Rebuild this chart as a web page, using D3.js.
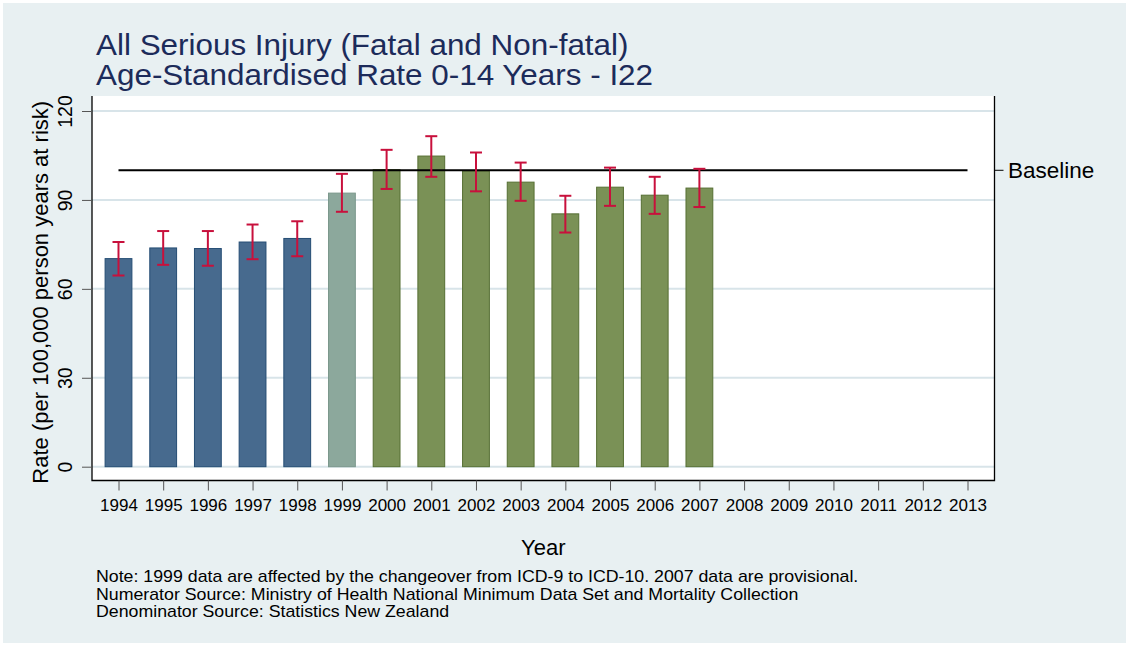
<!DOCTYPE html>
<html><head><meta charset="utf-8">
<script src="https://cdn.jsdelivr.net/npm/d3@7"></script>
<style>body{margin:0;background:#fff;}svg{display:block;font-family:"Liberation Sans",Arial,sans-serif;}</style>
</head><body>
<svg id="c" width="1129" height="646"></svg>
<script>
const years = d3.range(1994, 2014);
const barYears = [1994,1995,1996,1997,1998,1999,2000,2001,2002,2003,2004,2005,2006,2007];
const rates = [70.2,73.8,73.6,75.8,77.0,92.3,100.2,104.8,99.8,96.0,85.3,94.3,91.6,94.0];
const upper = [75.8,79.5,79.5,81.7,82.8,98.8,106.9,111.5,106.0,102.6,91.4,100.9,97.8,100.5];
const lower = [64.5,68.1,67.8,70.0,71.0,86.0,93.7,97.8,92.9,89.7,79.0,88.0,85.3,87.6];
const periods = ["icd9","icd9","icd9","icd9","icd9","change","icd10","icd10","icd10","icd10","icd10","icd10","icd10","icd10"];
const baseline = 100;
const yTicks = [0,30,60,90,120];
const titleLines = ["All Serious Injury (Fatal and Non-fatal)","Age-Standardised Rate 0-14 Years - I22"];
const notes = ["Note: 1999 data are affected by the changeover from ICD-9 to ICD-10. 2007 data are provisional.",
  "Numerator Source: Ministry of Health National Minimum Data Set and Mortality Collection",
  "Denominator Source: Statistics New Zealand"];

const fills = {icd9:"#476a8e", change:"#8ca89c", icd10:"#7a9156"};
const strokes = {icd9:"#254d74", change:"#7b978b", icd10:"#566f33"};

const svg = d3.select("#c");
svg.append("rect").attr("x",3).attr("y",3).attr("width",1123).attr("height",640).attr("fill","#e8f0f2");

const L=92, R=994.5, T=96, B=480.5;
svg.append("rect").attr("x",L).attr("y",T).attr("width",R-L).attr("height",B-T).attr("fill","#fff");

const x = d3.scalePoint().domain(years).range([118.5, 967.5]);
const y = d3.scaleLinear().domain([0,120]).range([466.7, 111]);
const bw = x.step()*0.6;

// gridlines
svg.append("g").selectAll("line").data(yTicks).join("line")
  .attr("x1",L).attr("x2",R).attr("y1",d=>y(d)).attr("y2",d=>y(d))
  .attr("stroke","#d8e4e9").attr("stroke-width",2);

// bars
const data = barYears.map((yr,i)=>({yr,v:rates[i],hi:upper[i],lo:lower[i],p:periods[i]}));
svg.append("g").selectAll("rect").data(data).join("rect")
  .attr("x",d=>x(d.yr)-bw/2).attr("width",bw)
  .attr("y",d=>y(d.v)).attr("height",d=>y(0)-y(d.v))
  .attr("fill",d=>fills[d.p]).attr("stroke",d=>strokes[d.p]).attr("stroke-width",1);

// baseline
svg.append("line").attr("x1",x(1994)).attr("x2",x(2013)).attr("y1",y(baseline)).attr("y2",y(baseline))
  .attr("stroke","#000").attr("stroke-width",2);

// error bars
const eb = svg.append("g").attr("stroke","#c8103c").attr("stroke-width",2).attr("fill","none");
data.forEach(d=>{
  eb.append("line").attr("x1",x(d.yr)).attr("x2",x(d.yr)).attr("y1",y(d.hi)).attr("y2",y(d.lo));
  eb.append("line").attr("x1",x(d.yr)-6).attr("x2",x(d.yr)+6).attr("y1",y(d.hi)).attr("y2",y(d.hi));
  eb.append("line").attr("x1",x(d.yr)-6).attr("x2",x(d.yr)+6).attr("y1",y(d.lo)).attr("y2",y(d.lo));
});

// frame lines (left, bottom, right)
svg.append("path").attr("d",`M${L},${T}V${B}H${R}V${T}`).attr("fill","none").attr("stroke","#000").attr("stroke-width",1.3);

// y axis
const yAxis = d3.axisLeft(y).tickValues(yTicks).tickSize(10).tickPadding(4);
const yg = svg.append("g").attr("transform",`translate(${L},0)`).call(yAxis);
yg.select(".domain").remove();
yg.selectAll(".tick line").attr("stroke","#555");
yg.selectAll(".tick text").attr("font-size",19.5).attr("fill","#000")
  .attr("x",null).attr("dy",null).attr("text-anchor","middle")
  .attr("transform","translate(-20,0) rotate(-90)");

// x axis
const xAxis = d3.axisBottom(x).tickSize(10).tickPadding(8);
const xg = svg.append("g").attr("transform",`translate(0,${B})`).call(xAxis);
xg.select(".domain").remove();
xg.selectAll(".tick line").attr("stroke","#555");
xg.selectAll(".tick text").attr("font-size",17).attr("fill","#000");

// right baseline tick + label
svg.append("line").attr("x1",R).attr("x2",R+9).attr("y1",y(baseline)).attr("y2",y(baseline)).attr("stroke","#000").attr("stroke-width",1);
svg.append("text").attr("x",1008).attr("y",y(baseline)).attr("dy","0.36em").attr("font-size",22.5).text("Baseline");

// axis titles
svg.append("text").attr("transform",`translate(48,${(T+B)/2+4}) rotate(-90)`).attr("text-anchor","middle")
  .attr("font-size",22).text("Rate (per 100,000 person years at risk)");
svg.append("text").attr("x",(L+R)/2).attr("y",555).attr("text-anchor","middle").attr("font-size",22).text("Year");

// title
svg.append("g").selectAll("text").data(titleLines).join("text")
  .attr("transform",(d,i)=>`translate(96,${55+i*30}) scale(1.065,1)`)
  .attr("font-size",29.5).attr("fill","#1c2b5a").text(d=>d);

// notes
svg.append("g").selectAll("text").data(notes).join("text")
  .attr("transform",(d,i)=>`translate(96,${582+i*17.5}) scale(1.11,1)`)
  .attr("font-size",16).attr("fill","#000").text(d=>d);
</script>
</body></html>
